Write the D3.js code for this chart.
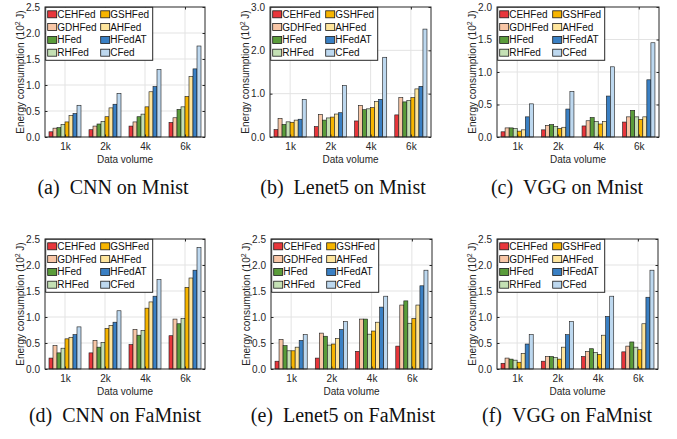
<!DOCTYPE html>
<html><head><meta charset="utf-8">
<script src="https://cdn.jsdelivr.net/npm/d3@7"></script>
<style>
html,body{margin:0;padding:0;background:#fff;}
svg{display:block;}
</style></head>
<body>
<svg id="chart" width="677" height="439"></svg>
<script>
const categories = ["1k", "2k", "4k", "6k"];
const seriesNames = ["CEHFed", "GDHFed", "HFed", "RHFed", "GSHFed", "AHFed", "HFedAT", "CFed"];
const seriesColors = ["#e8363b", "#f8c6a6", "#5a9c3a", "#c4e0b4", "#f7b500", "#fee59c", "#3a80c4", "#bdd8ef"];

// values [series][category]
const cnnMnist = [
  [0.10, 0.14, 0.21, 0.28],
  [0.17, 0.21, 0.29, 0.37],
  [0.18, 0.25, 0.39, 0.53],
  [0.24, 0.30, 0.44, 0.58],
  [0.29, 0.39, 0.58, 0.78],
  [0.41, 0.56, 0.87, 1.16],
  [0.45, 0.63, 0.97, 1.31],
  [0.61, 0.84, 1.30, 1.75]
];
const lenetMnist = [
  [0.17, 0.24, 0.37, 0.51],
  [0.43, 0.52, 0.73, 0.91],
  [0.29, 0.39, 0.63, 0.81],
  [0.35, 0.44, 0.65, 0.84],
  [0.34, 0.46, 0.68, 0.91],
  [0.39, 0.53, 0.82, 1.11],
  [0.41, 0.56, 0.87, 1.17],
  [0.87, 1.19, 1.84, 2.49]
];
const vggMnist = [
  [0.08, 0.11, 0.17, 0.23],
  [0.14, 0.18, 0.25, 0.31],
  [0.14, 0.19, 0.30, 0.41],
  [0.13, 0.16, 0.24, 0.31],
  [0.09, 0.13, 0.20, 0.27],
  [0.11, 0.15, 0.24, 0.31],
  [0.31, 0.43, 0.63, 0.88],
  [0.51, 0.70, 1.08, 1.45]
];
const cnnFaMnist = [
  [0.21, 0.31, 0.47, 0.64],
  [0.45, 0.55, 0.76, 0.96],
  [0.31, 0.42, 0.65, 0.87],
  [0.40, 0.51, 0.74, 0.97],
  [0.58, 0.78, 1.17, 1.57],
  [0.61, 0.84, 1.29, 1.75],
  [0.66, 0.90, 1.40, 1.90],
  [0.81, 1.12, 1.72, 2.34]
];
const lenetFaMnist = [
  [0.15, 0.21, 0.34, 0.44],
  [0.57, 0.69, 0.96, 1.23],
  [0.45, 0.63, 0.96, 1.31],
  [0.35, 0.46, 0.67, 0.88],
  [0.35, 0.48, 0.73, 0.97],
  [0.42, 0.59, 0.90, 1.23],
  [0.55, 0.76, 1.19, 1.60],
  [0.66, 0.91, 1.40, 1.90]
];
const vggFaMnist = [
  [0.11, 0.15, 0.24, 0.33],
  [0.21, 0.24, 0.34, 0.44],
  [0.19, 0.24, 0.39, 0.52],
  [0.17, 0.22, 0.32, 0.42],
  [0.13, 0.19, 0.28, 0.37],
  [0.30, 0.42, 0.65, 0.87],
  [0.48, 0.66, 1.01, 1.38],
  [0.66, 0.91, 1.40, 1.90]
];

const ticks25 = [0, 0.5, 1.0, 1.5, 2.0, 2.5];
const ticks30 = [0, 1.0, 2.0, 3.0];
const ticks20 = [0, 0.5, 1.0, 1.5, 2.0];

const captions = ["(a)\u2002CNN on Mnist", "(b)\u2002Lenet5 on Mnist", "(c)\u2002VGG on Mnist",
                  "(d)\u2002CNN on FaMnist", "(e)\u2002Lenet5 on FaMnist", "(f)\u2002VGG on FaMnist"];

const panels = [
  {data: cnnMnist,     ticks: ticks25, max: 2.5, x0: 45,  x1: 205, y0: 7,   y1: 137, cx: 113, capY: 194},
  {data: lenetMnist,   ticks: ticks30, max: 3.0, x0: 270, x1: 431, y0: 7,   y1: 137, cx: 343, capY: 194},
  {data: vggMnist,     ticks: ticks20, max: 2.0, x0: 497, x1: 659, y0: 7,   y1: 137, cx: 567, capY: 194},
  {data: cnnFaMnist,   ticks: ticks25, max: 2.5, x0: 45,  x1: 205, y0: 239, y1: 369, cx: 115, capY: 422},
  {data: lenetFaMnist, ticks: ticks25, max: 2.5, x0: 271, x1: 432, y0: 239, y1: 369, cx: 343, capY: 422},
  {data: vggFaMnist,   ticks: ticks25, max: 2.5, x0: 497, x1: 658, y0: 239, y1: 369, cx: 567, capY: 422}
];

const svg = d3.select("#chart");
const sans = "'Liberation Sans', Arial, Helvetica, sans-serif";
const axisColor = "#262626";

panels.forEach((p, pi) => {
  const g = svg.append("g");
  const x = d3.scaleLinear().domain([0.5, categories.length + 0.5]).range([p.x0, p.x1]);
  const y = d3.scaleLinear().domain([0, p.max]).range([p.y1, p.y0]);
  const unit = x(2) - x(1);
  const groupW = unit * 0.8;
  const slot = groupW / seriesNames.length;

  // grid
  g.selectAll(".hg").data(p.ticks.slice(1, -1)).enter().append("line")
    .attr("x1", p.x0).attr("x2", p.x1).attr("y1", d => y(d)).attr("y2", d => y(d))
    .attr("stroke", "#e3e3e3").attr("stroke-width", 1);
  g.selectAll(".vg").data(categories).enter().append("line")
    .attr("x1", (d, i) => x(i + 1)).attr("x2", (d, i) => x(i + 1))
    .attr("y1", p.y0).attr("y2", p.y1)
    .attr("stroke", "#e3e3e3").attr("stroke-width", 1);

  // bars
  p.data.forEach((vals, si) => {
    g.selectAll(".b" + si).data(vals).enter().append("rect")
      .attr("x", (d, ci) => x(ci + 1) - groupW / 2 + si * slot)
      .attr("width", slot)
      .attr("y", d => y(d))
      .attr("height", d => y(0) - y(d))
      .attr("fill", seriesColors[si])
      .attr("stroke", "#1a1a1a").attr("stroke-width", 0.6);
  });

  // axes
  const yAxis = d3.axisLeft(y).tickValues(p.ticks).tickFormat(d3.format(".1f")).tickSizeInner(-2.5).tickSizeOuter(0).tickPadding(5);
  const ya = g.append("g").attr("transform", `translate(${p.x0},0)`).call(yAxis);
  const yr = g.append("g").attr("transform", `translate(${p.x1},0)`).call(d3.axisRight(y).tickValues(p.ticks).tickFormat("").tickSizeInner(-2.5).tickSizeOuter(0));
  const xAxis = d3.axisBottom(x).tickValues(categories.map((c, i) => i + 1)).tickFormat((d, i) => categories[i]).tickSizeInner(-2.5).tickSizeOuter(0).tickPadding(6);
  const xa = g.append("g").attr("transform", `translate(0,${p.y1})`).call(xAxis);
  const xt = g.append("g").attr("transform", `translate(0,${p.y0})`).call(d3.axisTop(x).tickValues(categories.map((c, i) => i + 1)).tickFormat("").tickSizeInner(-2.5).tickSizeOuter(0));
  [ya, yr, xa, xt].forEach(a => {
    a.selectAll(".domain").remove();
    a.selectAll("line").attr("stroke", axisColor);
    a.selectAll("text").attr("fill", axisColor).style("font-family", sans).style("font-size", "10px");
  });
  g.append("rect").attr("x", p.x0).attr("y", p.y0).attr("width", p.x1 - p.x0).attr("height", p.y1 - p.y0)
    .attr("fill", "none").attr("stroke", axisColor).attr("stroke-width", 1);

  // axis titles
  g.append("text").attr("x", (p.x0 + p.x1) / 2).attr("y", p.y1 + 26)
    .attr("text-anchor", "middle").attr("fill", axisColor)
    .style("font-family", sans).style("font-size", "10px").text("Data volume");
  const yl = g.append("text")
    .attr("transform", `translate(${p.x0 - 21},${(p.y0 + p.y1) / 2}) rotate(-90)`)
    .attr("text-anchor", "middle").attr("fill", axisColor)
    .style("font-family", sans).style("font-size", "10px");
  yl.append("tspan").text("Energy consumption (10");
  yl.append("tspan").attr("dy", -4).style("font-size", "7px").text("2");
  yl.append("tspan").attr("dy", 4).text(" J)");

  // legend
  const lg = g.append("g").attr("transform", `translate(${p.x0 + 0.7},${p.y0 + 0.3})`);
  lg.append("rect").attr("x", 0).attr("y", 0).attr("width", 107).attr("height", 53)
    .attr("fill", "#fff").attr("stroke", axisColor).attr("stroke-width", 1);
  seriesNames.forEach((name, si) => {
    const col = Math.floor(si / 4), row = si % 4;
    const lx = 2 + col * 53, ly = 7 + row * 12.8;
    lg.append("rect").attr("x", lx).attr("y", ly - 3.5).attr("width", 9).attr("height", 7)
      .attr("fill", seriesColors[si]).attr("stroke", "#1a1a1a").attr("stroke-width", 0.8);
    lg.append("text").attr("x", lx + 9.5).attr("y", ly + 3.6).attr("fill", "#111")
      .style("font-family", sans).style("font-size", "10px").text(name);
  });

  // caption
  svg.append("text").attr("x", p.cx).attr("y", p.capY)
    .attr("text-anchor", "middle").attr("fill", "#111")
    .style("font-family", "'Liberation Serif', 'Times New Roman', serif").style("font-size", "20px")
    .text(captions[pi]);
});
</script>
</body></html>
